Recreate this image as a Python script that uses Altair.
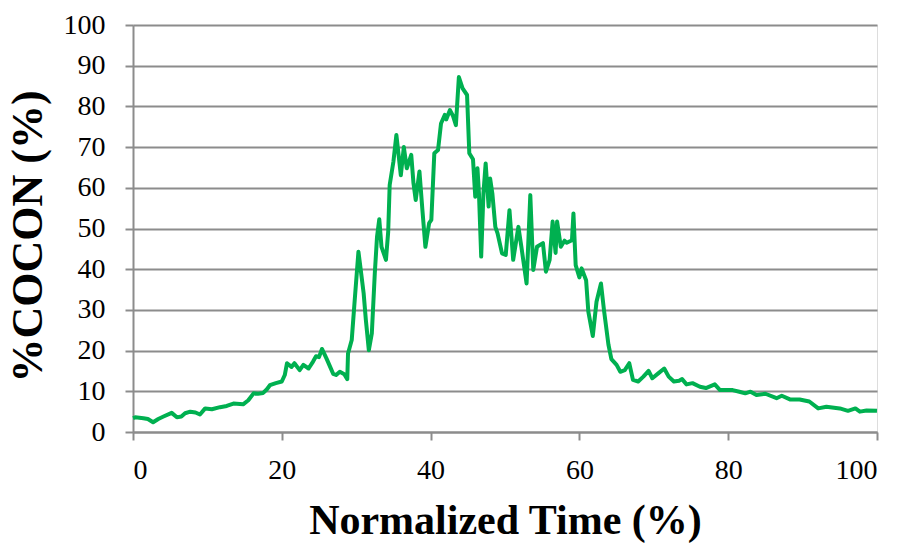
import altair as alt
import pandas as pd

# Normalized time (%) and the matching %COCON reading (%)
time_pct = [
    0, 0.3, 1.4, 2.0, 2.7, 3.4, 4.1, 5.2, 5.9, 6.5, 7.0, 7.7, 8.4, 9.0, 9.7,
    10.6, 11.7, 12.6, 13.5, 14.8, 15.5, 16.2, 16.8, 17.5, 18.0, 18.4, 19.2,
    20.0, 20.4, 20.7, 21.3, 21.7, 22.4, 22.9, 23.6, 24.2, 24.6, 25.0, 25.4,
    26.0, 26.5, 26.9, 27.3, 27.8, 28.4, 28.8, 28.9, 29.4, 29.8, 30.3, 30.6,
    31.0, 31.3, 31.7, 32.1, 32.5, 32.8, 33.1, 33.4, 34.0, 34.3, 34.5, 35.0,
    35.4, 36.0, 36.4, 36.8, 37.4, 37.7, 38.0, 38.5, 38.9, 39.3, 39.8, 40.1,
    40.5, 41.0, 41.4, 41.9, 42.1, 42.6, 43.0, 43.4, 43.8, 44.3, 44.9, 45.2,
    45.7, 46.0, 46.3, 46.5, 46.8, 47.1, 47.4, 47.8, 48.0, 48.3, 48.7, 49.0,
    49.6, 50.1, 50.6, 51.1, 51.8, 52.2, 52.9, 53.4, 53.8, 54.3, 55.1, 55.5,
    56.0, 56.4, 56.8, 57.0, 57.5, 58.0, 58.3, 59.0, 59.2, 59.5, 60.0, 60.3,
    60.9, 61.2, 61.8, 62.3, 62.9, 63.3, 63.9, 64.3, 65.0, 65.5, 66.1, 66.7,
    67.2, 67.9, 68.6, 69.3, 69.8, 70.6, 71.4, 72.0, 72.7, 73.4, 73.8, 74.4,
    75.2, 76.2, 77.0, 78.2, 78.9, 80.6, 81.5, 82.3, 83.0, 83.8, 85.0, 86.5,
    87.2, 88.3, 89.6, 90.9, 92.1, 93.2, 95.0, 96.1, 97.1, 97.7, 98.6, 100,
]
cocon_pct = [
    3.4, 3.6, 3.4, 3.2, 2.4, 3.2, 3.8, 4.7, 3.6, 3.8, 4.6, 5.0, 4.8, 4.3, 5.8,
    5.6, 6.1, 6.4, 7.0, 6.8, 7.8, 9.5, 9.4, 9.6, 10.5, 11.5, 12.0,
    12.4, 14.0, 16.9, 16.0, 16.9, 15.2, 16.5, 15.6, 17.3, 18.6, 18.4, 20.4,
    18.1, 16.0, 14.3, 14.0, 14.8, 14.2, 13.0, 19.3, 22.6, 32.4, 44.3, 40.0,
    34.1, 27.5, 20.1, 24.2, 39.0, 48.0, 52.3, 45.5, 42.3, 49.2, 60.7, 66.4,
    73.0, 63.1, 70.0, 64.8, 68.1, 61.1, 57.0, 64.0, 54.5, 45.5, 51.3, 52.1,
    68.5, 69.3, 75.8, 77.9, 76.8, 79.1, 77.7, 75.4, 87.2, 84.4, 82.8, 68.5,
    67.0, 57.8, 64.8, 58.6, 43.1, 58.6, 66.0, 55.4, 62.3, 58.6, 50.4, 48.8,
    43.9, 43.5, 54.5, 42.3, 50.4, 45.5, 36.5, 58.2, 39.8, 45.5, 46.4, 39.4,
    42.3, 51.7, 44.0, 51.7, 45.5, 47.0, 46.5, 47.1, 53.7, 41.0, 38.0, 40.2,
    37.3, 29.6, 23.6, 32.0, 36.5, 30.0, 21.5, 17.9, 16.5, 14.8, 15.2, 16.9,
    12.8, 12.4, 13.6, 15.0, 13.2, 14.4, 15.6, 13.6, 12.4, 12.6, 13.0, 11.7,
    12.0, 11.1, 10.8, 11.7, 10.3, 10.3, 9.9, 9.5, 9.9, 9.1, 9.4, 8.3,
    8.9, 8.0, 8.0, 7.5, 5.8, 6.2, 5.8, 5.2, 5.8, 5.0, 5.3, 5.2,
]

x_ticks = [0, 20, 40, 60, 80, 100]
y_ticks = [0, 10, 20, 30, 40, 50, 60, 70, 80, 90, 100]

df = pd.DataFrame({"time": time_pct, "cocon": cocon_pct})

FONT = "Liberation Serif"
GRAY = "#8c8c8c"

chart = (
    alt.Chart(df)
    .mark_line(color="#00B050", strokeWidth=4, strokeJoin="round")
    .encode(
        x=alt.X(
            "time:Q",
            scale=alt.Scale(domain=[0, 100], nice=False, zero=False),
            axis=alt.Axis(
                values=x_ticks,
                grid=False,
                title="Normalized Time (%)",
                titleFont=FONT,
                titleFontSize=42,
                titleFontWeight="bold",
                titleColor="black",
                titleY=101,
                titleBaseline="alphabetic",
                labelFont=FONT,
                labelFontSize=28,
                labelColor="black",
                labelPadding=16,
                tickSize=8,
                tickColor=GRAY,
                tickWidth=2,
                domainColor=GRAY,
                domainWidth=2,
            ),
        ),
        y=alt.Y(
            "cocon:Q",
            scale=alt.Scale(domain=[0, 100], nice=False),
            axis=alt.Axis(
                values=y_ticks,
                grid=True,
                gridColor=GRAY,
                gridWidth=2,
                title="%COCON (%)",
                titleFont=FONT,
                titleFontSize=44,
                titleFontWeight="bold",
                titleColor="black",
                titleX=-92,
                titleY=211,
                titleBaseline="alphabetic",
                labelFont=FONT,
                labelFontSize=28,
                labelColor="black",
                labelPadding=20,
                tickSize=8,
                tickColor=GRAY,
                tickWidth=2,
                domainColor=GRAY,
                domainWidth=2,
            ),
        ),
    )
    .properties(
        width=744,
        height=407,
        autosize=alt.AutoSizeParams(type="none"),
        padding={"left": 133, "top": 25, "right": 28, "bottom": 111},
    )
    .configure_view(stroke=GRAY, strokeWidth=2)
    .configure(background="white")
)

chart.save("out.html", embed_options={"renderer": "svg", "actions": False})
